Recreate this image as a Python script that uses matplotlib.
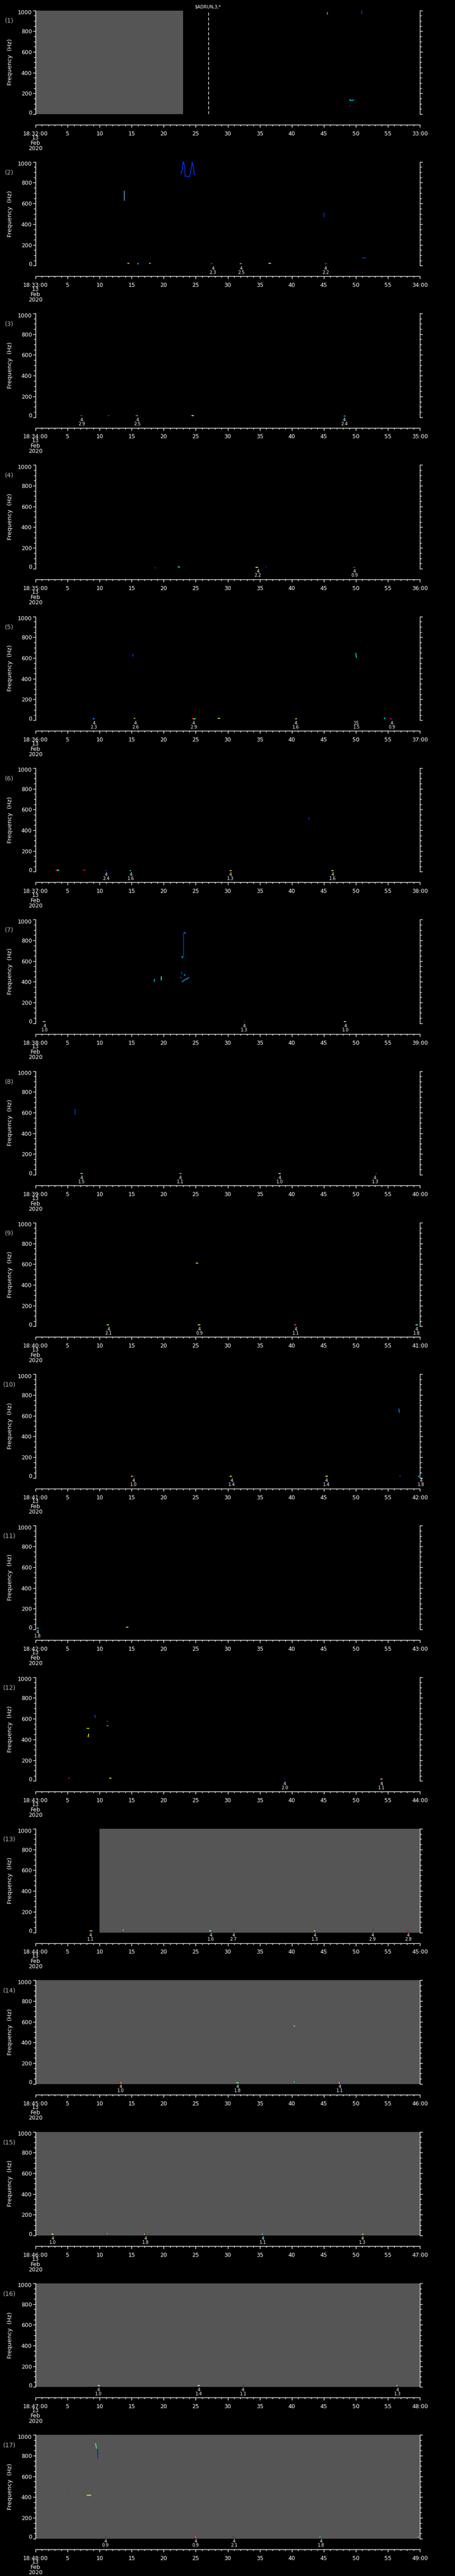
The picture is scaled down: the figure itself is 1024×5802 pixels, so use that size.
import matplotlib
matplotlib.use("Agg")
import matplotlib.pyplot as plt
from matplotlib.ticker import MultipleLocator, FixedLocator
from matplotlib.transforms import blended_transform_factory, ScaledTranslation

# ---------------- data ----------------
START_MINUTES = list(range(32, 49))          # 18:32 ... 18:48
TITLE = "$ADRUN,3,*"

# gray (no data) spans per panel (seconds)
GRAY_SPANS = {0: (0, 23), 12: (10, 60), 13: (0, 60), 14: (0, 60), 15: (0, 60), 16: (0, 60)}
DASHED_LINES = {0: 27.0}

# event annotations: (time s, upper label, lower label)
EVENTS = [
    [],
    [(27.7, "4", "2.3"), (32.1, "4", "2.5"), (45.3, "4", "2.2")],
    [(7.2, "4", "2.9"), (15.9, "4", "2.5"), (48.2, "4", "2.4")],
    [(34.7, "4", "2.2"), (49.8, "4", "0.9")],
    [(9.1, "4", "2.3"), (15.6, "4", "2.6"), (24.7, "4", "2.9"), (40.6, "4", "1.6"), (50.1, "15", "1.5"), (55.6, "4", "0.9")],
    [(11.0, "4", "2.4"), (14.9, "4", "1.6"), (30.4, "4", "1.3"), (46.4, "4", "1.6")],
    [(1.4, "4", "1.0"), (32.6, "4", "1.3"), (48.4, "4", "1.0")],
    [(7.2, "4", "1.5"), (22.6, "4", "1.1"), (38.1, "4", "1.0"), (53.0, "4", "1.3")],
    [(11.4, "4", "2.1"), (25.6, "4", "0.9"), (40.6, "4", "1.1"), (59.5, "4", "1.8")],
    [(15.3, "4", "1.0"), (30.6, "4", "1.4"), (45.4, "4", "1.4"), (60.2, "4", "1.8")],
    [(0.3, "4", "1.8")],
    [(38.9, "4", "2.0"), (54.0, "4", "1.1")],
    [(8.6, "4", "1.1"), (27.4, "4", "1.6"), (30.9, "4", "2.7"), (43.6, "4", "1.3"), (52.6, "4", "2.9"), (58.2, "4", "2.8")],
    [(13.3, "4", "1.0"), (31.5, "4", "1.8"), (47.5, "4", "1.1")],
    [(2.7, "4", "1.0"), (17.2, "4", "1.8"), (35.5, "4", "1.1"), (51.0, "4", "1.3")],
    [(9.8, "4", "1.0"), (25.5, "4", "1.4"), (32.4, "4", "1.1"), (56.5, "4", "1.3")],
    [(10.9, "4", "0.9"), (25.0, "4", "0.9"), (31.0, "4", "2.1"), (44.6, "4", "1.8")],
]

# short multi-coloured marks near 0 Hz: (time s, freq Hz, colour codes)
LOW_MARKS = [
    [],
    [(14.5, 23, "yo"), (16.0, 18, "c"), (17.9, 23, "yb"), (27.5, 18, "rb"), (32.0, 18, "rc"), (36.5, 23, "ryc"), (45.3, 18, "rb")],
    [(7.2, 14, "rb"), (11.4, 14, "r"), (15.8, 14, "rc"), (24.5, 16, "cy"), (48.2, 10, "bc")],
    [(18.7, 10, "b"), (22.4, 18, "cg"), (34.5, 14, "ryc"), (36.0, 18, "b"), (49.8, 12, "rb")],
    [(9.1, 12, "cb"), (15.4, 16, "by"), (24.7, 12, "ryc"), (28.6, 16, "gy"), (40.6, 12, "by"), (54.5, 16, "c"), (55.5, 12, "rb")],
    [(3.4, 16, "ryc"), (7.6, 16, "mr"), (11.0, 12, "b"), (14.8, 12, "c"), (30.4, 12, "ry"), (46.4, 12, "yo")],
    [(1.3, 14, "ryc"), (32.6, 14, "r"), (48.3, 14, "yc")],
    [(7.2, 12, "cg"), (22.6, 12, "ry"), (38.1, 12, "yc"), (53.2, 12, "r")],
    [(11.3, 14, "cy"), (25.5, 14, "ryc"), (40.5, 14, "rc"), (59.5, 14, "cy")],
    [(15.2, 14, "yrb"), (30.5, 14, "yc"), (45.4, 14, "ryc"), (56.9, 20, "b"), (59.9, 14, "cb")],
    [(0.3, 12, "bc"), (14.3, 20, "yg")],
    [(5.2, 25, "rb"), (11.7, 25, "yc"), (38.9, 18, "b"), (54.0, 16, "ryb")],
    [(8.6, 16, "ryc"), (13.6, 22, "rc"), (27.4, 16, "ycb"), (30.9, 22, "rb"), (43.6, 16, "ryb"), (52.6, 22, "rb"), (58.0, 16, "rrb")],
    [(13.3, 14, "ryb"), (31.5, 14, "yc"), (40.5, 22, "cb"), (47.4, 14, "ryb")],
    [(2.7, 12, "yc"), (11.1, 17, "bc"), (17.0, 14, "ryb"), (35.5, 12, "cb"), (51.0, 12, "ry")],
    [(9.8, 14, "ryc"), (25.5, 14, "yc"), (32.4, 14, "rb"), (56.5, 14, "cb")],
    [(10.9, 14, "rb"), (24.9, 14, "rc"), (30.9, 14, "b"), (44.4, 14, "c"), (59.8, 14, "cr")],
]

# traces: (times, freqs, colour)
TRACES = [
    [([45.6, 45.6], [985, 960], "#00c8ff"), ([50.9, 50.9], [1000, 965], "#0040ff"),
     ([49.1, 49.1, 49.5, 49.7], [146, 132, 132, 138], "#00c8ff"), ([49.05, 49.2], [83, 83], "#0040ff")],
    [([13.85, 13.85, 13.95], [723, 632, 630], "#50a8c8"),
     ([22.7, 22.8, 22.95, 23.0, 23.1, 23.2, 23.3, 23.35, 23.8, 24.0, 24.2, 24.35, 24.45, 24.6, 24.7, 24.8, 25.0],
      [880, 915, 930, 1000, 1000, 970, 960, 862, 862, 855, 900, 950, 1000, 960, 920, 880, 875], "#0030ff"),
     ([45.0, 45.0], [513, 467], "#0030ff"), ([51.0, 51.4, 51.6], [74, 74, 80], "#0030ff")],
    [],
    [],
    [([15.2, 15.2], [639, 612], "#0030ff"), ([50.0, 50.1], [650, 600], "#00e0e0")],
    [([42.6, 42.7], [524, 505], "#0030ff")],
    [([18.5, 18.6], [400, 430], "#00c0ff"), ([19.6, 19.6], [455, 415], "#40ffa0"),
     ([22.9, 22.9], [650, 630], "#00c0ff"), ([23.0, 23.1, 23.1], [639, 640, 864], "#0030ff"),
     ([23.1, 23.3, 23.4], [864, 880, 860], "#0060ff"), ([22.5, 22.8], [439, 439], "#0030ff"),
     ([22.8, 22.8], [500, 470], "#0030ff"), ([23.2, 23.4], [465, 465], "#00ffff"),
     ([22.8, 23.0, 23.2, 23.4, 23.6, 23.8, 24.0], [400, 405, 415, 425, 425, 435, 445], "#00a0ff")],
    [([6.2, 6.2], [637, 577], "#0030ff")],
    [([25.0, 25.4], [611, 609], "#a0ff40")],
    [([56.7, 56.8], [670, 627], "#0080ff")],
    [],
    [([9.2, 9.4], [637, 610], "#0050ff"), ([11.1, 11.3], [573, 573], "#0050ff"),
     ([11.1, 11.4], [530, 530], "#00c0ff"), ([8.0, 8.4], [506, 506], "#a0ff00"),
     ([8.2, 8.3], [422, 455], "#ffff00")],
    [],
    [([40.3, 40.5], [560, 558], "#a0ff40")],
    [([35.1, 35.2], [69, 69], "#0040ff")],
    [],
    [([9.25, 9.35], [951, 951], "#0040ff"), ([9.3, 9.4, 9.5], [919, 910, 869], "#40ff80"),
     ([9.7, 9.7], [864, 776], "#0020c0"), ([4.9, 4.9], [436, 421], "#0040ff"),
     ([8.0, 8.7], [417, 417], "#ffff00")],
]

COLOR_CODES = {"r": "#ff0000", "y": "#ffff00", "c": "#00ffff", "b": "#0030ff",
               "g": "#40ff80", "o": "#ff8000", "m": "#a000ff"}

FREQ_TICKS = [0, 200, 400, 600, 800, 1000]
SEC_TICKS = list(range(0, 61, 5))

# ---------------- layout ----------------
W, H = 1024, 5802
CELL = H / 17.0
X0, X1 = 80, 945
GRAY = "#555555"

fig = plt.figure(figsize=(W / 100, H / 100), dpi=100, facecolor="black")


def fy(py):
    return 1 - py / H


for i, minute in enumerate(START_MINUTES):
    top = i * CELL
    ptop, pbot = top + 23.5, top + 257
    ax = fig.add_axes([X0 / W, fy(pbot), (X1 - X0) / W, (pbot - ptop) / H])
    ax.set_facecolor("black")
    ax.set_xlim(0, 60)
    ax.set_ylim(0, 1000)
    for s in ("top", "bottom"):
        ax.spines[s].set_visible(False)
    for s in ("left", "right"):
        ax.spines[s].set_color("white")
        ax.spines[s].set_linewidth(1.0)
    ax.set_xticks([])
    ax.yaxis.set_major_locator(FixedLocator(FREQ_TICKS))
    ax.yaxis.set_minor_locator(MultipleLocator(50))
    ax.yaxis.set_ticks_position("both")
    ax.tick_params(axis="y", which="both", direction="out", colors="white",
                   length=4, width=1, labelsize=9, pad=2, labelleft=True, labelright=False)
    ax.tick_params(axis="y", which="minor", length=3)
    # end labels sit slightly inside the axis range
    ylabels = ax.yaxis.get_majorticklabels()
    ylabels[0].set_transform(ylabels[0].get_transform() + ScaledTranslation(0, 4.5 / 100, fig.dpi_scale_trans))
    ylabels[-1].set_transform(ylabels[-1].get_transform() + ScaledTranslation(0, -3.5 / 100, fig.dpi_scale_trans))

    if i in GRAY_SPANS:
        a, b = GRAY_SPANS[i]
        ax.axvspan(a, b, color=GRAY, zorder=0, lw=0)
    if i in DASHED_LINES:
        ax.axvline(DASHED_LINES[i], color="white", lw=1.0, dashes=(5, 3), zorder=3)

    for ts, fs, col in TRACES[i]:
        ax.plot(ts, fs, color=col, lw=1.3, solid_capstyle="butt", zorder=4, clip_on=False)

    piece = 0.17
    for t, f, codes in LOW_MARKS[i]:
        n = len(codes)
        start = t - n * piece / 2
        for k, c in enumerate(codes):
            ax.plot([start + k * piece, start + (k + 1) * piece], [f, f], color=COLOR_CODES[c],
                    lw=1.6, solid_capstyle="butt", zorder=4, clip_on=False)

    trans = blended_transform_factory(ax.transData, fig.transFigure)
    for t, up, lo in EVENTS[i]:
        ax.text(t, fy(top + 263.5), up, transform=trans, color="white", fontsize=7,
                ha="center", va="center", clip_on=False)
        ax.text(t, fy(top + 272.5), lo, transform=trans, color="white", fontsize=7,
                ha="center", va="center", clip_on=False)

    # panel label and y label
    fig.text(21 / W, fy(top + 47), f"({i + 1})", color="#b4b4b4", fontsize=10,
             ha="center", va="center")
    fig.text(23 / W, fy(top + 140), "Frequency  (Hz)", color="white", fontsize=9.5,
             rotation=90, ha="center", va="center")

    # time axis
    tax = fig.add_axes([X0 / W, fy(top + 281), (X1 - X0) / W, 0.5 / H])
    tax.patch.set_visible(False)
    for s in ("top", "left", "right"):
        tax.spines[s].set_visible(False)
    tax.spines["bottom"].set_color("white")
    tax.spines["bottom"].set_linewidth(1.0)
    tax.set_xlim(0, 60)
    tax.set_yticks([])
    tax.xaxis.set_major_locator(FixedLocator(SEC_TICKS))
    tax.xaxis.set_minor_locator(MultipleLocator(1))
    end_label = f"{minute + 1:02d}:00"
    labels = [f"18:{minute:02d}:00"] + [str(s) for s in SEC_TICKS[1:-1]] + [end_label]
    tax.set_xticklabels(labels)
    tax.tick_params(axis="x", which="both", direction="out", colors="white", width=1,
                    labelsize=9, pad=6)
    tax.tick_params(axis="x", which="major", length=4)
    tax.tick_params(axis="x", which="minor", length=2)

    for k, txt in enumerate(["13", "Feb", "2020"]):
        fig.text(X0 / W, fy(top + 310 + 12 * k), txt, color="white", fontsize=9,
                 ha="center", va="center")

fig.text(468 / W, fy(15.5), TITLE, color="white", fontsize=7, ha="center", va="center")

fig.savefig("out.png", dpi=100, facecolor="black")
